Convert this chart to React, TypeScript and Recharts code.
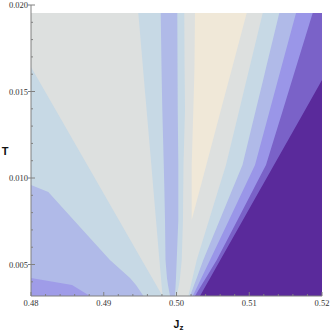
import React from "react";
import { AreaChart, Area, XAxis, YAxis } from "recharts";

// Jz range and T range of the plot
const jzMin = 0.48;
const jzMax = 0.52;
const tMin = 0.00318;
const tMax = 0.02;

// rows of T (top to bottom) at which the contour edges were read
const tRows = [0.01954, 0.01642, 0.01567, 0.01393, 0.01075, 0.0096, 0.00919, 0.00757, 0.00526, 0.00422, 0.00382, 0.00318];

// contour edges (Jz) at each row
const greyLeftFrom = [0.48, 0.48, 0.48103, 0.4834, 0.48774, 0.48932, 0.48987, 0.49208, 0.49523, 0.49666, 0.49721, 0.49808];
const greyLeftTo = [0.49475, 0.49538, 0.49553, 0.49589, 0.49654, 0.49677, 0.49685, 0.49718, 0.49765, 0.49787, 0.49795, 0.49808];
const lavLeftTo = [0.48, 0.48, 0.48, 0.48, 0.48, 0.48, 0.48238, 0.48586, 0.49085, 0.49361, 0.49443, 0.49546];
const periLeftTo = [0.48, 0.48, 0.48, 0.48, 0.48, 0.48, 0.48, 0.48, 0.48, 0.48, 0.48564, 0.48811];
const lavMidFrom = [0.49783, 0.49794, 0.49797, 0.49805, 0.49825, 0.49832, 0.49834, 0.49842, 0.49849, 0.49869, 0.49883, 0.49911];
const lavMidTo = [0.50011, 0.50014, 0.50015, 0.50017, 0.50025, 0.50025, 0.50025, 0.50025, 0.50003, 0.49993, 0.49988, 0.49979];
const greyMidFrom = [0.50107, 0.50111, 0.50113, 0.50117, 0.50096, 0.50094, 0.50092, 0.50089, 0.50072, 0.50048, 0.50034, 0.50003];
const greyMidTo = [0.51185, 0.51006, 0.50962, 0.50863, 0.5068, 0.50595, 0.50565, 0.50447, 0.50278, 0.5022, 0.50198, 0.50162];
const beigeFrom = [0.50254, 0.50247, 0.50243, 0.50231, 0.50209, 0.50209, 0.50209, 0.50209, 0.50209, 0.50209, 0.50209, 0.50209];
const beigeTo = [0.50965, 0.50768, 0.5072, 0.5061, 0.5041, 0.50337, 0.50311, 0.50209, 0.50209, 0.50209, 0.50209, 0.50209];
const lavRightFrom = [0.51413, 0.51233, 0.51191, 0.5109, 0.50907, 0.50793, 0.50753, 0.50595, 0.50368, 0.50278, 0.50242, 0.50186];
const periRightFrom = [0.51643, 0.51442, 0.51394, 0.51283, 0.51079, 0.50949, 0.50903, 0.50722, 0.50461, 0.50342, 0.50296, 0.50223];
const purpleRightFrom = [0.51872, 0.51644, 0.51589, 0.51463, 0.5123, 0.51087, 0.51038, 0.50839, 0.50553, 0.50404, 0.50345, 0.50254];
const darkFrom = [0.52, 0.52, 0.52, 0.51768, 0.5134, 0.51185, 0.5113, 0.50913, 0.50602, 0.50463, 0.50408, 0.50323];

// ticks
const xTicks = [0.48, 0.482, 0.484, 0.486, 0.488, 0.49, 0.492, 0.494, 0.496, 0.498, 0.5, 0.502, 0.504, 0.506, 0.508, 0.51, 0.512, 0.514, 0.516, 0.518, 0.52];
const xMajor = [0.48, 0.49, 0.5, 0.51, 0.52];
const yTicks = [0.004, 0.005, 0.006, 0.007, 0.008, 0.009, 0.01, 0.011, 0.012, 0.013, 0.014, 0.015, 0.016, 0.017, 0.018, 0.019, 0.02];
const yMajor = [0.005, 0.01, 0.015, 0.02];

const data = tRows.map((T, i) => ({
  T,
  base: [jzMin, jzMax],
  greyLeft: [greyLeftFrom[i], greyLeftTo[i]],
  lavLeft: [jzMin, lavLeftTo[i]],
  periLeft: [jzMin, periLeftTo[i]],
  lavMid: [lavMidFrom[i], lavMidTo[i]],
  greyMid: [greyMidFrom[i], greyMidTo[i]],
  beige: [beigeFrom[i], beigeTo[i]],
  lavRight: [lavRightFrom[i], jzMax],
  periRight: [periRightFrom[i], jzMax],
  purpleRight: [purpleRightFrom[i], jzMax],
  darkRight: [darkFrom[i], jzMax],
}));

const bands = [
  { key: "base", color: "#c7d9e5" },
  { key: "greyLeft", color: "#dde0df" },
  { key: "lavLeft", color: "#b0bae8" },
  { key: "periLeft", color: "#9f9ce8" },
  { key: "lavMid", color: "#b0bae8" },
  { key: "greyMid", color: "#dde0df" },
  { key: "beige", color: "#f0e8d8" },
  { key: "lavRight", color: "#b0bae8" },
  { key: "periRight", color: "#9a96e8" },
  { key: "purpleRight", color: "#7a62c8" },
  { key: "darkRight", color: "#5a2a9b" },
];

const frame = "#808080";
const tickFont = "'Liberation Serif', 'DejaVu Serif', serif";
const isMajor = (list: number[], v: number) => list.some((m) => Math.abs(m - v) < 1e-9);

const BottomTick = (props: any) => {
  const { x, y, payload } = props;
  const major = isMajor(xMajor, payload.value);
  return (
    <g>
      <line x1={x} x2={x} y1={y - (major ? 4 : 2)} y2={y} stroke={frame} />
      {major && (
        <text x={x} y={y + 10} textAnchor="middle" fontSize={8.5} fontFamily={tickFont} fill="#333">
          {payload.value.toFixed(2)}
        </text>
      )}
    </g>
  );
};

const TopTick = (props: any) => {
  const { x, y, payload } = props;
  const major = isMajor(xMajor, payload.value);
  return <line x1={x} x2={x} y1={y} y2={y + (major ? 4 : 2)} stroke={frame} />;
};

const LeftTick = (props: any) => {
  const { x, y, payload } = props;
  const major = isMajor(yMajor, payload.value);
  return (
    <g>
      <line x1={x - (major ? 3 : 0)} x2={x + (major ? 4 : 2)} y1={y} y2={y} stroke={frame} />
      {major && (
        <text x={x - 3} y={y + 3} textAnchor="end" fontSize={8.5} fontFamily={tickFont} fill="#333">
          {payload.value.toFixed(3)}
        </text>
      )}
    </g>
  );
};

const RightTick = (props: any) => {
  const { x, y, payload } = props;
  const major = isMajor(yMajor, payload.value);
  return <line x1={x - (major ? 4 : 2)} x2={x} y1={y} y2={y} stroke={frame} />;
};

const TLabel = (props: any) => {
  const vb = props.viewBox;
  return (
    <text x={vb.x + 5} y={vb.y + vb.height / 2 + 4} textAnchor="middle" fontSize={11} fontWeight="bold" fontFamily="'Liberation Sans', Arial, sans-serif" fill="#111">
      T
    </text>
  );
};

const JLabel = (props: any) => {
  const vb = props.viewBox;
  return (
    <text x={vb.x + vb.width / 2 + 2} y={vb.y + 32} textAnchor="middle" fontSize={10.5} fontWeight="bold" fontFamily="'Liberation Sans', Arial, sans-serif" fill="#111">
      J<tspan fontSize={8} dy={2}>z</tspan>
    </text>
  );
};

export default function App() {
  return (
    <div style={{ position: "absolute", left: 0, top: 0, width: 331, height: 331, background: "#fff" }}>
      <AreaChart
        width={331}
        height={331}
        data={data}
        layout="vertical"
        margin={{ top: 5, right: 9, bottom: 0, left: 0 }}
      >
        <XAxis
          xAxisId="bottom"
          type="number"
          domain={[jzMin, jzMax]}
          ticks={xTicks}
          interval={0}
          allowDataOverflow
          orientation="bottom"
          height={35}
          tickSize={0}
          tickMargin={0}
          tick={BottomTick}
          axisLine={{ stroke: frame }}
          label={{ content: JLabel }}
        />
        <XAxis
          xAxisId="top"
          type="number"
          domain={[jzMin, jzMax]}
          ticks={xTicks}
          interval={0}
          allowDataOverflow
          orientation="top"
          height={0}
          tickSize={0}
          tickMargin={0}
          tick={TopTick}
          axisLine={{ stroke: frame }}
        />
        <YAxis
          yAxisId="left"
          type="number"
          dataKey="T"
          domain={[tMin, tMax]}
          reversed
          ticks={yTicks}
          interval={0}
          allowDataOverflow
          orientation="left"
          width={31}
          tickSize={0}
          tickMargin={0}
          tick={LeftTick}
          axisLine={{ stroke: frame }}
          label={{ content: TLabel }}
        />
        <YAxis
          yAxisId="right"
          type="number"
          dataKey="T"
          domain={[tMin, tMax]}
          reversed
          ticks={yTicks}
          interval={0}
          allowDataOverflow
          orientation="right"
          width={0}
          tickSize={0}
          tickMargin={0}
          tick={RightTick}
          axisLine={{ stroke: frame }}
        />
        {bands.map((b) => (
          <Area
            key={b.key}
            xAxisId="bottom"
            yAxisId="left"
            dataKey={b.key}
            type="linear"
            fill={b.color}
            fillOpacity={1}
            stroke="none"
            dot={false}
            activeDot={false}
            isAnimationActive={false}
          />
        ))}
      </AreaChart>
    </div>
  );
}
